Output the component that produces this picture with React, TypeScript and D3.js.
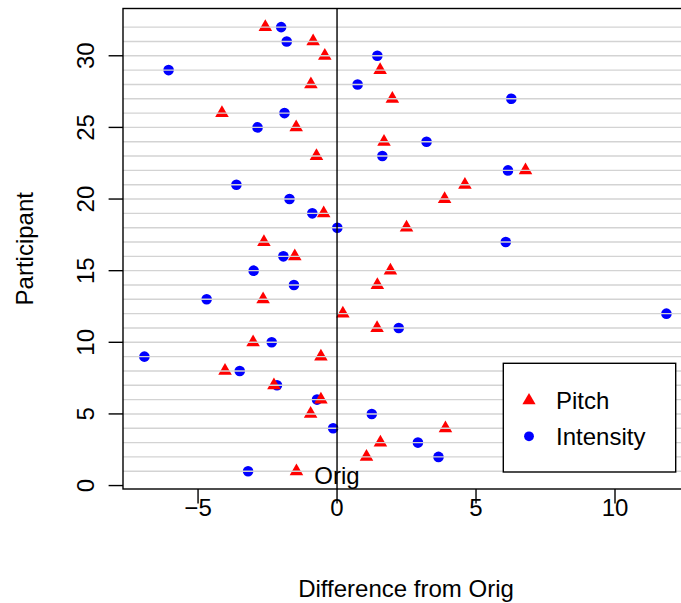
import React from "react";
import * as d3 from "d3";

const participants = d3.range(1, 33);
const pitch = [
  -1.46, 1.06, 1.56, 3.9, -0.95, -0.58, -2.27, -4.03, -0.58, -3.02, 1.44, 0.21,
  -2.66, 1.45, 1.92, -1.52, -2.63, 2.5, -0.48, 3.87, 4.6, 6.78, -0.74, 1.69,
  -1.47, -4.14, 1.99, -0.94, 1.55, -0.44, -0.86, -2.58,
];
const intensity = [
  -3.2, 3.65, 2.91, -0.14, 1.25, -0.72, -2.16, -3.5, -6.93, -2.35, 2.22, 11.85,
  -4.69, -1.55, -3.0, -1.93, 6.07, 0.01, -0.89, -1.71, -3.62, 6.15, 1.63, 3.22,
  -2.86, -1.89, 6.27, 0.74, -6.06, 1.45, -1.81, -2.01,
];
const xTicks = [-5, 0, 5, 10];
const yTicks = [0, 5, 10, 15, 20, 25, 30];
const legendLabels = ["Pitch", "Intensity"];

const W = 681;
const H = 603;
const left = 123;
const right = 692;
const top = 8.5;
const bottom = 489;
const FONT = "'Liberation Sans', Arial, Helvetica, sans-serif";
const FS = 24;

const x = d3.scaleLinear().domain([-7.7, 12.77]).range([left, right]);
const y = d3.scaleLinear().domain([-0.24, 33.3]).range([bottom, top]);

const R = 5.3;
function triPath(cx: number, cy: number, r: number) {
  const t = 1.5551203 * r;
  const h = 1.3467737 * r;
  const b = 0.7775602 * r;
  return `M${cx},${cy - t}L${cx + h},${cy + b}L${cx - h},${cy + b}Z`;
}

const fmt = (v: number) => (v < 0 ? "\u2212" + Math.abs(v) : String(v));

export default function App() {
  return (
    <svg
      width={W}
      height={H}
      style={{ position: "absolute", left: 0, top: 0, background: "#fff" }}
      fontFamily={FONT}
    >
      <defs>
        <clipPath id="plot">
          <rect x={left} y={top} width={right - left} height={bottom - top} />
        </clipPath>
      </defs>
      <rect x={0} y={0} width={W} height={H} fill="#fff" />
      <g clipPath="url(#plot)">
        {participants.map((p, i) => (
          <circle key={"c" + p} cx={x(intensity[i])} cy={y(p)} r={R} fill="#0000ff" />
        ))}
        {participants.map((p, i) => (
          <path key={"t" + p} d={triPath(x(pitch[i]), y(p), R * 0.95)} fill="#ff0000" />
        ))}
        {participants.map((p) => (
          <line
            key={"g" + p}
            x1={left}
            x2={right}
            y1={y(p)}
            y2={y(p)}
            stroke="#d3d3d3"
            strokeWidth={1.4}
          />
        ))}
        <line x1={x(0)} x2={x(0)} y1={top} y2={bottom} stroke="#000" strokeWidth={1.4} />
        <text x={x(0)} y={484} fontSize={FS} textAnchor="middle" fill="#000">
          Orig
        </text>
      </g>
      <rect
        x={left}
        y={top}
        width={right - left}
        height={bottom - top}
        fill="none"
        stroke="#000"
        strokeWidth={1.4}
      />
      {xTicks.map((t) => (
        <g key={"xt" + t}>
          <line x1={x(t)} x2={x(t)} y1={bottom} y2={bottom + 14.4} stroke="#000" strokeWidth={1.4} />
          <text x={x(t)} y={516} fontSize={FS} textAnchor="middle">
            {fmt(t)}
          </text>
        </g>
      ))}
      {yTicks.map((t) => (
        <g key={"yt" + t}>
          <line x1={left - 14.4} x2={left} y1={y(t)} y2={y(t)} stroke="#000" strokeWidth={1.4} />
          <text
            transform={`translate(94,${y(t)}) rotate(-90)`}
            fontSize={FS}
            textAnchor="middle"
          >
            {fmt(t)}
          </text>
        </g>
      ))}
      <text x={406} y={597} fontSize={FS} textAnchor="middle">
        Difference from Orig
      </text>
      <text
        transform={`translate(33,${(top + bottom) / 2}) rotate(-90)`}
        fontSize={FS}
        textAnchor="middle"
      >
        Participant
      </text>
      <g>
        <rect x={503.3} y={363.3} width={172.4} height={108.7} fill="#fff" stroke="#000" strokeWidth={1.4} />
        <path d={triPath(529, 400.5, 4.9)} fill="#ff0000" />
        <circle cx={529} cy={436.3} r={4.9} fill="#0000ff" />
        <text x={556} y={408.6} fontSize={FS}>
          {legendLabels[0]}
        </text>
        <text x={556} y={444.8} fontSize={FS}>
          {legendLabels[1]}
        </text>
      </g>
    </svg>
  );
}
